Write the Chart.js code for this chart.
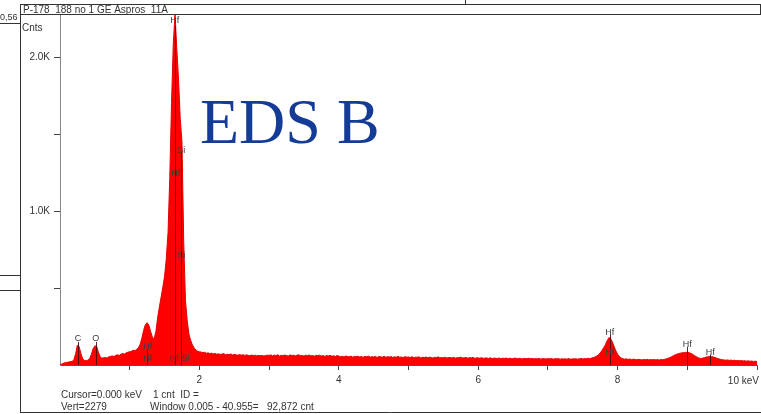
<!DOCTYPE html>
<html><head><meta charset="utf-8">
<script src="https://cdn.jsdelivr.net/npm/chart.js@4"></script>
<style>html,body{margin:0;padding:0;background:#fff;overflow:hidden}canvas{display:block}</style>
</head><body>
<canvas id="c" width="761" height="414"></canvas>
<script>
// Energy axis: counts[i] belongs to energy startKeV + i*stepKeV
const startKeV = 0;
const stepKeV = 0.025;
const counts = [
  // 0.000 - 0.975
  0, 6, 12, 15, 17, 19, 22, 24, 34, 75, 130, 118, 75, 40, 30, 28, 31, 42, 68, 106, 124, 122, 84, 56, 44, 47, 49, 45, 53, 56, 59, 55, 63, 66, 62, 70, 75, 71, 79, 83,
  // 1.000 - 1.975
  86, 90, 96, 93, 102, 112, 135, 175, 225, 262, 275, 258, 218, 182, 170, 215, 305, 375, 440, 505, 575, 690, 860, 1220, 1700, 2080, 2279, 2060, 1860, 1600, 1450, 800, 420, 290, 200, 160, 130, 110, 98, 90,
  // 2.000 - 2.975
  86, 84, 80, 83, 76, 79, 74, 77, 72, 75, 70, 73, 68, 71, 74, 66, 70, 67, 72, 65, 69, 66, 63, 68, 64, 67, 62, 66, 63, 60, 65, 61, 64, 59, 63, 60, 62, 58, 61, 64,
  // 3.000 - 3.975
  62, 66, 59, 64, 61, 67, 58, 63, 60, 65, 62, 58, 66, 61, 64, 59, 63, 67, 60, 62, 58, 64, 61, 65, 59, 62, 57, 63, 60, 64, 58, 61, 56, 62, 59, 63, 57, 60, 55, 61,
  // 4.000 - 4.975
  58, 54, 57, 52, 59, 55, 53, 58, 51, 56, 54, 57, 52, 55, 50, 56, 53, 58, 51, 54, 52, 56, 49, 55, 53, 51, 57, 50, 54, 52, 55, 49, 53, 51, 56, 50, 52, 48, 54, 51,
  // 5.000 - 5.975
  52, 49, 54, 47, 51, 50, 53, 46, 50, 48, 52, 47, 51, 49, 45, 50, 48, 53, 46, 49, 47, 51, 45, 49, 48, 46, 50, 44, 48, 47, 51, 45, 47, 49, 44, 48, 46, 50, 43, 47,
  // 6.000 - 6.975
  46, 44, 48, 42, 46, 45, 43, 47, 41, 45, 44, 42, 46, 40, 44, 43, 45, 41, 44, 42, 40, 45, 43, 41, 44, 39, 43, 42, 40, 44, 41, 43, 39, 42, 40, 43, 38, 42, 41, 39,
  // 7.000 - 7.975
  42, 40, 43, 38, 41, 40, 42, 37, 41, 39, 40, 38, 42, 37, 40, 39, 41, 38, 40, 43, 39, 42, 40, 44, 41, 45, 48, 52, 58, 66, 78, 95, 112, 132, 158, 178, 172, 150, 120, 92,
  // 8.000 - 8.975
  70, 56, 46, 41, 38, 40, 36, 39, 35, 38, 36, 34, 37, 35, 33, 36, 34, 37, 33, 35, 34, 36, 33, 35, 32, 36, 34, 37, 40, 44, 48, 54, 60, 66, 70, 74, 77, 79, 80, 82,
  // 9.000 - 10.000
  82, 80, 76, 70, 62, 55, 48, 44, 42, 45, 48, 52, 54, 55, 54, 52, 48, 44, 40, 37, 34, 33, 31, 33, 30, 32, 29, 31, 28, 30, 27, 29, 26, 28, 25, 27, 24, 26, 23, 25, 22
];

const yTickValues = [500, 1000, 1500, 2000];
const yTickLabels = {1000: '1.0K', 2000: '2.0K'};
const xTickValues = [1, 2, 3, 4, 5, 6, 7, 8, 9, 10];
const xTickLabels = {2: '2', 4: '4', 6: '6', 8: '8'};
const xEndLabel = '10 keV';

// KLM marker lines (energy, top in counts)
const markerKeV = [0.257, 0.514, 1.25, 1.645, 1.74, 7.886, 9.0, 9.33];
const markerTop = [150, 150, 100, 2200, 1380, 200, 118, 68];

// marker labels (energy, height in counts, text)
const labelKeV    = [0.257, 0.514, 1.26, 1.26, 1.645, 1.74, 1.66, 1.74, 1.64, 1.80, 7.886, 7.886, 9.0, 9.33];
const labelCounts = [175, 175, 117, 45, 2240, 1390, 1247, 714, 45, 45, 214, 84, 130, 78];
const labelText   = ['C', 'O', 'Hf', 'Hf', 'Hf', 'Si', 'Hf', 'Si', 'Hf', 'Si', 'Hf', 'Hf', 'Hf', 'Hf'];

const headerText = 'P-178  188 no 1 GE Aspros  11A';
const cursorText = 'Cursor=0.000 keV    1 cnt  ID =';
const vertText = 'Vert=2279';
const windowText = 'Window 0.005 - 40.955=   92,872 cnt';
const overlayTitle = 'EDS B';

const points = counts.map((c, i) => ({x: +(startKeV + i * stepKeV).toFixed(3), y: c}));
const SANS = '"Liberation Sans", Arial, sans-serif';

const decor = {
  id: 'decor',
  afterDatasetsDraw(chart) {
    const ctx = chart.ctx, xs = chart.scales.x, ys = chart.scales.y;
    ctx.save();
    ctx.strokeStyle = 'rgba(70,0,0,0.85)';
    ctx.lineWidth = 1;
    markerKeV.forEach((e, i) => {
      const px = Math.round(xs.getPixelForValue(e)) + 0.5;
      ctx.beginPath();
      ctx.moveTo(px, ys.getPixelForValue(0));
      ctx.lineTo(px, ys.getPixelForValue(markerTop[i]));
      ctx.stroke();
    });
    ctx.font = '9px ' + SANS;
    ctx.fillStyle = '#3a3a3a';
    ctx.textAlign = 'center';
    ctx.textBaseline = 'middle';
    labelKeV.forEach((e, i) => {
      ctx.fillText(labelText[i], xs.getPixelForValue(e), ys.getPixelForValue(labelCounts[i]));
    });
    ctx.restore();
  },
  afterDraw(chart) {
    const ctx = chart.ctx, xs = chart.scales.x;
    ctx.save();
    ctx.strokeStyle = '#333';
    ctx.lineWidth = 1;
    // header box
    ctx.strokeRect(20.5, 4.5, 740, 10);
    // left frame and bottom frame
    ctx.beginPath();
    ctx.moveTo(20.5, 4); ctx.lineTo(20.5, 413);
    ctx.moveTo(20, 412.5); ctx.lineTo(761, 412.5);
    ctx.moveTo(0, 23.5); ctx.lineTo(20, 23.5);
    ctx.moveTo(0, 275.5); ctx.lineTo(20, 275.5);
    ctx.moveTo(0, 290.5); ctx.lineTo(20, 290.5);
    ctx.moveTo(465.5, 0); ctx.lineTo(465.5, 4);
    ctx.stroke();
    ctx.fillStyle = '#333';
    ctx.textBaseline = 'middle';
    ctx.textAlign = 'left';
    ctx.font = '10px ' + SANS;
    ctx.fillText(headerText, 23, 10);
    ctx.fillText('Cnts', 22, 28);
    ctx.font = '9px ' + SANS;
    ctx.fillText('0,56', 0, 18);
    ctx.font = '10px ' + SANS;
    ctx.fillText(cursorText, 61, 395);
    ctx.fillText(vertText, 61, 407);
    ctx.fillText(windowText, 150, 407);
    ctx.textAlign = 'right';
    ctx.fillText(xEndLabel, 759, 381);
    // overlay title
    ctx.textAlign = 'left';
    ctx.textBaseline = 'alphabetic';
    ctx.fillStyle = '#143c96';
    ctx.font = '64px "Liberation Serif", "Times New Roman", serif';
    ctx.fillText(overlayTitle, 200, 143);
    ctx.restore();
  }
};

new Chart(document.getElementById('c'), {
  type: 'line',
  data: {datasets: [{
    data: points, fill: 'origin', backgroundColor: '#ff0000', borderColor: '#e40000',
    borderWidth: 1, pointRadius: 0, tension: 0
  }]},
  options: {
    responsive: false, animation: false, devicePixelRatio: 1,
    layout: {padding: {top: 14, right: 1, left: 0, bottom: 0}},
    plugins: {legend: {display: false}, tooltip: {enabled: false}},
    scales: {
      x: {
        type: 'linear', min: 0, max: 10,
        afterBuildTicks: a => { a.ticks = xTickValues.map(v => ({value: v})); },
        afterFit: s => { s.height = 49; },
        grid: {drawOnChartArea: false, drawTicks: true, tickLength: 5, color: '#444'},
        border: {color: '#555'},
        ticks: {autoSkip: false, maxRotation: 0, padding: 4, color: '#333',
          font: {family: SANS, size: 10},
          callback: v => xTickLabels[v] || ''}
      },
      y: {
        min: 0, max: 2280,
        afterBuildTicks: a => { a.ticks = yTickValues.map(v => ({value: v})); },
        afterFit: s => { s.width = 60; },
        grid: {drawOnChartArea: false, drawTicks: true, tickLength: 6, color: '#444'},
        border: {color: '#888'},
        ticks: {autoSkip: false, padding: 4, color: '#333',
          font: {family: SANS, size: 10},
          callback: v => yTickLabels[v] || ''}
      }
    }
  },
  plugins: [decor]
});
</script>
</body></html>
